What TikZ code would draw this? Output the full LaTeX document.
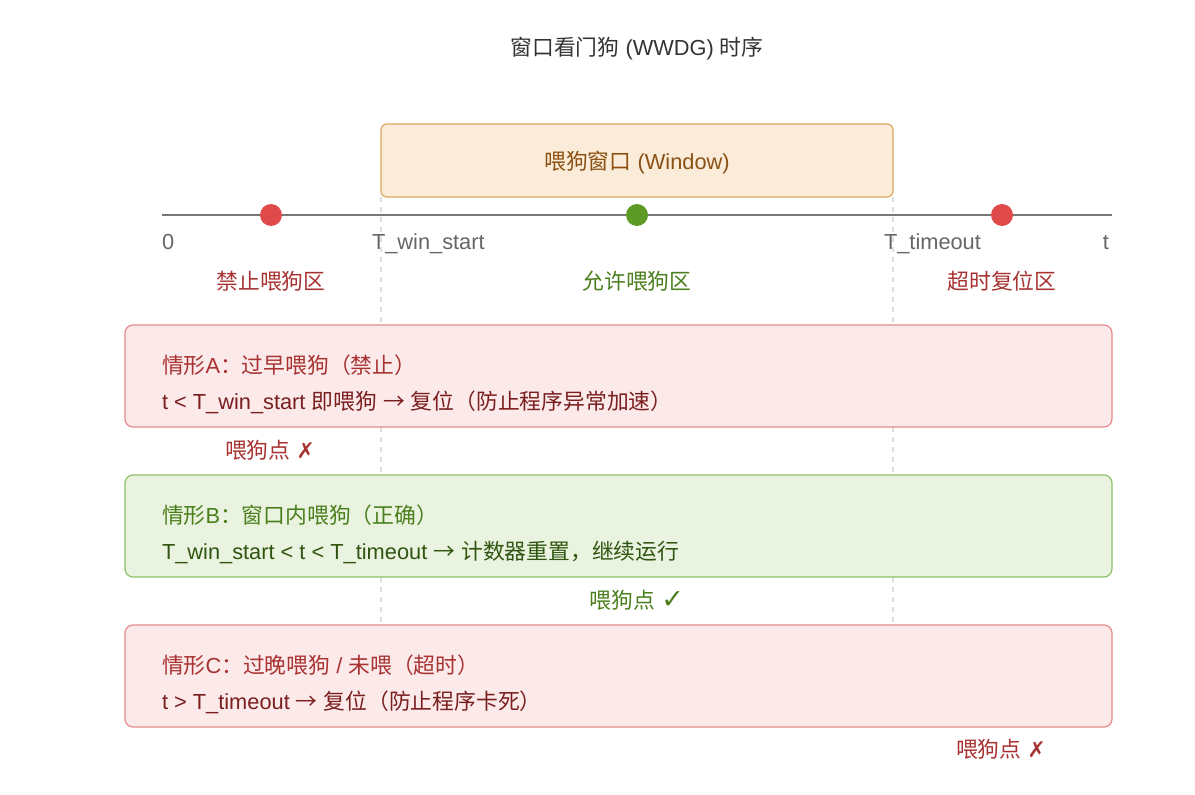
\documentclass[tikz,border=0pt]{standalone}
\usepackage{fontspec}
\setmainfont{Liberation Sans}
\newfontfamily\cjk{Noto Sans CJK SC}
\newfontfamily\symf{DejaVu Sans}
\newcommand{\C}[1]{{\cjk #1}}
\newcommand{\arr}{{\cjk →}}
\definecolor{titlec}{HTML}{333333}
\definecolor{winfill}{HTML}{FAECD8}
\definecolor{windraw}{HTML}{DDA65E}
\definecolor{wintext}{HTML}{8B5014}
\definecolor{axisc}{HTML}{777777}
\definecolor{axistext}{HTML}{666666}
\definecolor{reddot}{HTML}{E04A4A}
\definecolor{greendot}{HTML}{5E9A26}
\definecolor{redtext}{HTML}{A83232}
\definecolor{reddark}{HTML}{7A1E1E}
\definecolor{greentext}{HTML}{4A7F1C}
\definecolor{greendark}{HTML}{2F5511}
\definecolor{redfill}{HTML}{FCEAEA}
\definecolor{reddraw}{HTML}{E88A8A}
\definecolor{greenfill}{HTML}{EAF3DF}
\definecolor{greendraw}{HTML}{8EC06A}
\definecolor{guide}{HTML}{DDDDDD}
\begin{document}
\begin{tikzpicture}[x=1pt,y=-1pt,
  every node/.style={inner sep=0pt,outer sep=0pt},
  font=\fontsize{21.8}{26}\selectfont,
  txt/.style={anchor=base},
  txtw/.style={anchor=base west},
  casebox/.style={draw,line width=1.2pt,rounded corners=8pt,minimum width=987pt,minimum height=102pt,anchor=north west},
  redbox/.style={casebox,fill=redfill,draw=reddraw},
  greenbox/.style={casebox,fill=greenfill,draw=greendraw},
  dot/.style={circle,minimum size=22pt},
  guideline/.style={draw=guide,line width=1.2pt,dash pattern=on 5pt off 5pt}
]
\useasboundingbox (0,0) rectangle (1195,795);

% title
\node[txt,text=titlec] (title) at (637,55) {\C{窗口看门狗} (WWDG) \C{时序}};

% window box
\node[draw=windraw,fill=winfill,line width=1.2pt,rounded corners=6pt,minimum width=512pt,minimum height=73pt,anchor=north west] (win) at (381,124) {};
\node[txt,text=wintext] (wintxt) at (637,169) {\C{喂狗窗口} (Window)};

% guide lines
\coordinate (g1) at (381,700);
\coordinate (g2) at (893,700);
\draw[guideline] (win.south west) -- (g1);
\draw[guideline] (win.south east) -- (g2);

% axis
\coordinate (t0) at (162,215);
\coordinate (t1) at (1112,215);
\draw[axisc,line width=1.2pt] (t0) -- (t1);
\node[dot,fill=reddot] (d1) at (271,215) {};
\node[dot,fill=greendot] (d2) at (637,215) {};
\node[dot,fill=reddot] (d3) at (1002,215) {};

\node[txtw,text=axistext] (l0) at (162,249) {0};
\node[txtw,text=axistext] (lws) at (372,249) {T\_win\_start};
\node[txtw,text=axistext] (lto) at (884,249) {T\_timeout};
\node[txt,text=axistext] (lt) at (1106,249) {t};

\node[txt,text=redtext] (z1) at (271,289) {\C{禁止喂狗区}};
\node[txt,text=greentext] (z2) at (637,289) {\C{允许喂狗区}};
\node[txt,text=redtext] (z3) at (1002,289) {\C{超时复位区}};

% case A
\node[redbox] (boxA) at (125,325) {};
\node[txtw,text=redtext] (a1) at (162,373) {\C{情形}A\C{：过早喂狗（禁止）}};
\node[txtw,text=reddark] (a2) at (162,409) {t < T\_win\_start \C{即喂狗} \arr{} \C{复位（防止程序异常加速）}};
\node[txt,text=redtext] (fa) at (270,458) {\C{喂狗点} {\symf ✗}};

% case B
\node[greenbox] (boxB) at (125,475) {};
\node[txtw,text=greentext] (b1) at (162,523) {\C{情形}B\C{：窗口内喂狗（正确）}};
\node[txtw,text=greendark] (b2) at (162,559) {T\_win\_start < t < T\_timeout \arr{} \C{计数器重置，继续运行}};
\node[txt,text=greentext] (fb) at (637,608) {\C{喂狗点} {\symf\fontsize{27}{30}\selectfont ✓}};

% case C
\node[redbox] (boxC) at (125,625) {};
\node[txtw,text=redtext] (c1) at (162,673) {\C{情形}C\C{：过晚喂狗} / \C{未喂（超时）}};
\node[txtw,text=reddark] (c2) at (162,709) {t > T\_timeout \arr{} \C{复位（防止程序卡死）}};
\node[txt,text=redtext] (fc) at (1001,757) {\C{喂狗点} {\symf ✗}};
\end{tikzpicture}
\end{document}
